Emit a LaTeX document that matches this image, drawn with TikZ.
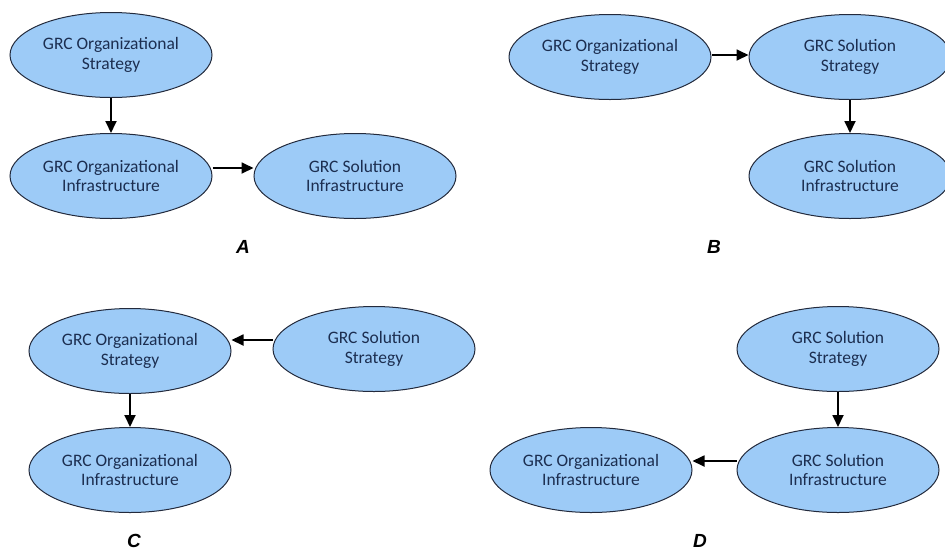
\documentclass[tikz,border=0pt]{standalone}
\usepackage{fontspec}
\setmainfont{Carlito}
\newfontfamily\labfont{Liberation Sans}
\usetikzlibrary{arrows.meta,shapes.geometric}
\definecolor{ellfill}{RGB}{157,203,247}
\definecolor{elldraw}{RGB}{35,42,60}
\definecolor{elltext}{RGB}{28,46,80}
\tikzset{
  ell/.style={ellipse, draw=elldraw, line width=1pt, fill=ellfill, minimum width=202pt, minimum height=85pt, inner sep=0pt, align=center, text=elltext, font=\fontsize{17.5}{19.5}\selectfont},
  conn/.style={line width=1.8pt, -{Triangle[length=12pt,width=11pt]}},
  panellabel/.style={font=\labfont\bfseries\itshape\fontsize{19}{21}\selectfont}
}
\begin{document}
\begin{tikzpicture}[x=1pt,y=-1pt]
\useasboundingbox (0,0) rectangle (945,550);
\clip (0,0) rectangle (945,550);
% Panel A
\node[ell] (a1) at (111,55) {GRC Organizational\\Strategy};
\node[ell] (a2) at (111,176) {GRC Organizational\\Infrastructure};
\node[ell] (a3) at (355,176) {GRC Solution\\Infrastructure};
\draw[conn] (a1) -- (a2);
\draw[conn] ([yshift=8pt]a2.east) -- ([yshift=8pt]a3.west);
\node[panellabel] (la) at (243,247) {A};
% Panel B
\node[ell] (b1) at (610,57) {GRC Organizational\\Strategy};
\node[ell] (b2) at (850,57) {GRC Solution\\Strategy};
\node[ell] (b3) at (850,176) {GRC Solution\\Infrastructure};
\draw[conn] ([yshift=2pt]b1.east) -- ([yshift=2pt]b2.west);
\draw[conn] (b2) -- (b3);
\node[panellabel] (lb) at (714,247) {B};
% Panel C
\node[ell] (c1) at (130,351) {GRC Organizational\\Strategy};
\node[ell] (c2) at (374,349) {GRC Solution\\Strategy};
\node[ell] (c3) at (130,470) {GRC Organizational\\Infrastructure};
\draw[conn] ([yshift=9pt]c2.west) -- ([yshift=9pt]c1.east |- c2.west);
\draw[conn] (c1) -- (c3);
\node[panellabel] (lc) at (134,541) {C};
% Panel D
\node[ell] (d1) at (838,349) {GRC Solution\\Strategy};
\node[ell] (d2) at (838,470) {GRC Solution\\Infrastructure};
\node[ell] (d3) at (591,470) {GRC Organizational\\Infrastructure};
\draw[conn] (d1) -- (d2);
\draw[conn] ([yshift=9pt]d2.west) -- ([yshift=9pt]d3.east);
\node[panellabel] (ld) at (700,541) {D};
\end{tikzpicture}
\end{document}
